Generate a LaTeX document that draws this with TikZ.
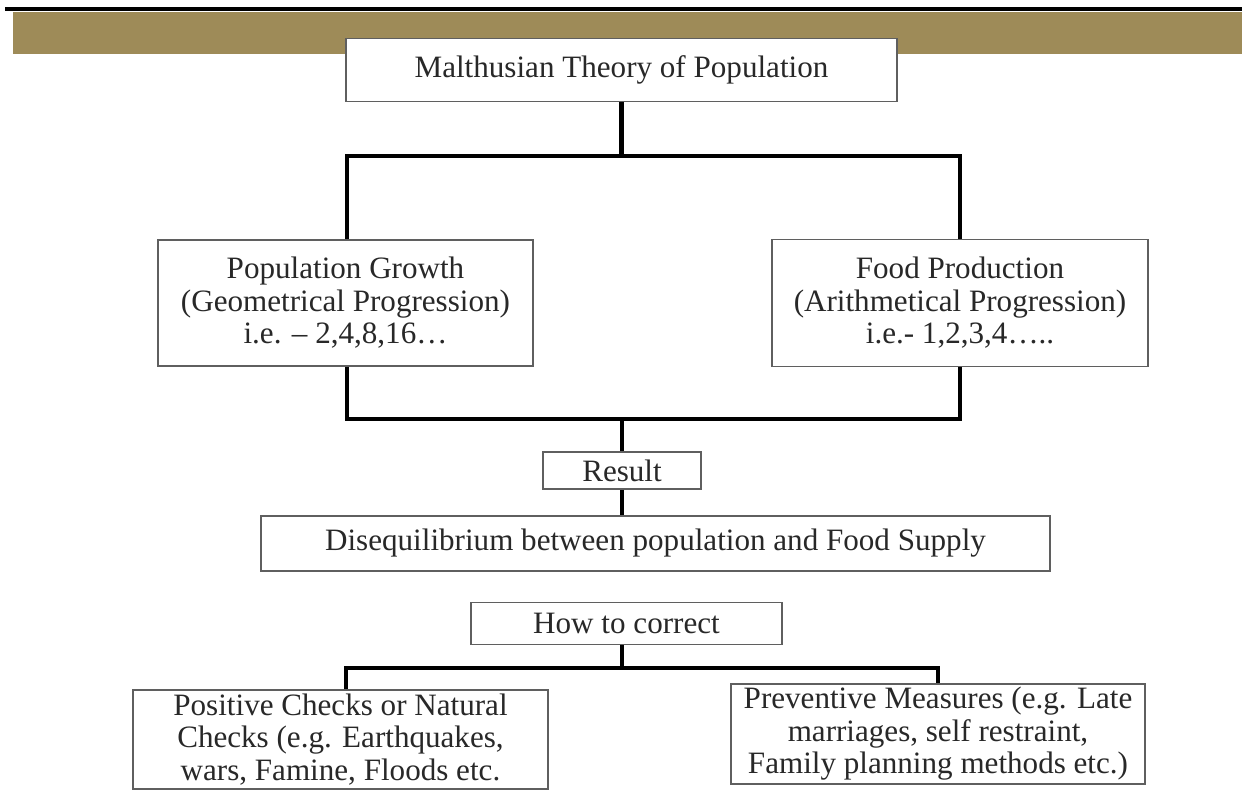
\documentclass[tikz,border=0pt]{standalone}
\usepackage{fontspec}
\setmainfont{Liberation Serif}
\usetikzlibrary{positioning,calc}

\definecolor{bandgold}{RGB}{158,139,88}
\definecolor{boxgray}{RGB}{95,95,95}
\definecolor{textgray}{RGB}{40,40,40}

\begin{document}
\begin{tikzpicture}
  [
  x=0.02cm, y=-0.02cm,
  line width=2.3pt, draw=black,
  textbox/.style={rectangle, draw=boxgray, line width=1.1pt, fill=white,
    inner sep=0pt, align=center, text=textgray,
    font=\fontsize{17.7}{18.5}\selectfont},
  link/.style={line width=2.3pt, draw=black}
  ]

  \useasboundingbox (0,0) rectangle (1242,811);

  % header band
  \fill[bandgold] (13,12) rectangle (1242,54);
  \fill[black] (5,7) rectangle (1242,11);

  \node[textbox, minimum width=11.02cm, minimum height=1.26cm] (theory) at (621.5,70) {Malthusian Theory of Population};

  \node[textbox, minimum width=7.5cm, minimum height=2.52cm] (growth) at (345.5,303)
    {Population Growth\\(Geometrical Progression)\\i.e. -- 2,4,8,16\dots};
  \node[textbox, minimum width=7.52cm, minimum height=2.54cm] (food) at (960,303)
    {Food Production\\(Arithmetical Progression)\\i.e.- 1,2,3,4\dots..};

  \node[textbox, minimum width=3.16cm, minimum height=0.74cm] (result) at (622,470.5) {Result};
  \node[textbox, minimum width=15.78cm, minimum height=1.1cm] (diseq) at (655.5,543.5)
    {Disequilibrium between population and Food Supply};

  \node[textbox, minimum width=6.22cm, minimum height=0.84cm] (correct) at (626.5,623.5) {How to correct};

  \node[textbox, minimum width=8.3cm, minimum height=1.98cm] (positive) at (340.5,739.5)
    {Positive Checks or Natural\\Checks (e.g. Earthquakes,\\wars, Famine, Floods etc.};
  \node[textbox, minimum width=8.28cm, minimum height=2cm] (preventive) at (938,734)
    {Preventive Measures (e.g. Late\\marriages, self restraint,\\Family planning methods etc.)};

  % junction points
  \coordinate (jtl) at (347,156);
  \coordinate (jtr) at (960,156);
  \coordinate (jml) at (347,419);
  \coordinate (jmr) at (960,419);
  \coordinate (jbl) at (346,668);
  \coordinate (jbr) at (938,668);

  \draw[link] (theory.south) -- (theory.south |- jtl);
  \draw[link] (growth.north -| jtl) -- (jtl) -- (jtr) -- (food.north -| jtr);

  \draw[link] (growth.south -| jml) -- (jml) -- (jmr) -- (food.south -| jmr);
  \draw[link] (result.north |- jml) -- (result.north);
  \draw[link] (result.south) -- (diseq.north -| result.south);

  \draw[link] (correct.south -| result.south) -- (jbl -| result.south);
  \draw[link] (positive.north -| jbl) -- (jbl) -- (jbr) -- (preventive.north -| jbr);
\end{tikzpicture}
\end{document}
